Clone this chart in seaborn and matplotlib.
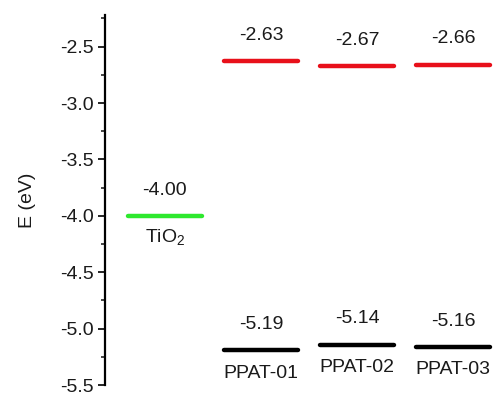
import pandas as pd
import numpy as np
import matplotlib
matplotlib.use('Agg')
import matplotlib.pyplot as plt
import seaborn as sns
from matplotlib.ticker import MultipleLocator

# energy levels (eV)
materials = ['TiO$_2$', 'PPAT-01', 'PPAT-02', 'PPAT-03']
lumo = [-4.00, -2.63, -2.67, -2.66]
homo = [None, -5.19, -5.14, -5.16]
value_labels_lumo = ['-4.00', '-2.63', '-2.67', '-2.66']
value_labels_homo = [None, '-5.19', '-5.14', '-5.16']

sns.set_style('white')
plt.rcParams['font.family'] = ['Liberation Sans', 'DejaVu Sans']
plt.rcParams['mathtext.fontset'] = 'custom'
plt.rcParams['mathtext.rm'] = 'Liberation Sans'

half = 0.385
rows = []
for i, m in enumerate(materials):
    kind = 'tio2' if i == 0 else 'lumo'
    for x in (i - half, i + half):
        rows.append({'x': x, 'E': lumo[i], 'seg': f'l{i}', 'kind': kind})
    if homo[i] is not None:
        for x in (i - half, i + half):
            rows.append({'x': x, 'E': homo[i], 'seg': f'h{i}', 'kind': 'homo'})
df = pd.DataFrame(rows)

fig, ax = plt.subplots(figsize=(5.04, 3.95), dpi=100)
fig.subplots_adjust(left=0.208, right=1.0, top=0.962, bottom=0.025)

sns.lineplot(data=df, x='x', y='E', units='seg', hue='kind', estimator=None,
             palette={'tio2': '#2ee82e', 'lumo': '#e8101a', 'homo': '#000000'},
             linewidth=3.2, legend=False, ax=ax, solid_capstyle='round')

fs = 14
tc = '#1a1a1a'
for i, m in enumerate(materials):
    ax.annotate(value_labels_lumo[i], (i, lumo[i]), xytext=(0, 18.5), textcoords='offset points',
                ha='center', va='center', fontsize=fs, color=tc)
    if homo[i] is not None:
        ax.annotate(value_labels_homo[i], (i, homo[i]), xytext=(0, 18.5), textcoords='offset points',
                    ha='center', va='center', fontsize=fs, color=tc)
        ax.annotate(m, (i, homo[i]), xytext=(0, -16.5), textcoords='offset points',
                    ha='center', va='center', fontsize=fs, color=tc)
    else:
        ax.annotate(m, (i, lumo[i]), xytext=(0, -16), textcoords='offset points',
                    ha='center', va='center', fontsize=fs, color=tc)

ax.set_xlim(-0.625, 3.53)
ax.set_ylim(-5.5, -2.22)
ax.yaxis.set_major_locator(MultipleLocator(0.5))
ax.yaxis.set_minor_locator(MultipleLocator(0.25))
ax.set_yticks(np.arange(-5.5, -2.4, 0.5))
ax.set_yticklabels([f'{v:.1f}' for v in np.arange(-5.5, -2.4, 0.5)])
ax.tick_params(axis='y', which='major', direction='out', length=5, width=1.2, left=True,
               labelsize=fs, colors='black', labelcolor=tc, pad=3)
ax.tick_params(axis='y', which='minor', direction='out', length=3, width=1.2, left=True)
ax.set_xticks([])
ax.set_xlabel('')
ax.set_ylabel('E (eV)', fontsize=fs, color=tc, labelpad=17)
for s in ['top', 'right', 'bottom']:
    ax.spines[s].set_visible(False)
ax.spines['left'].set_linewidth(1.6)
ax.spines['left'].set_color('black')

fig.savefig('out.png', dpi=100)
